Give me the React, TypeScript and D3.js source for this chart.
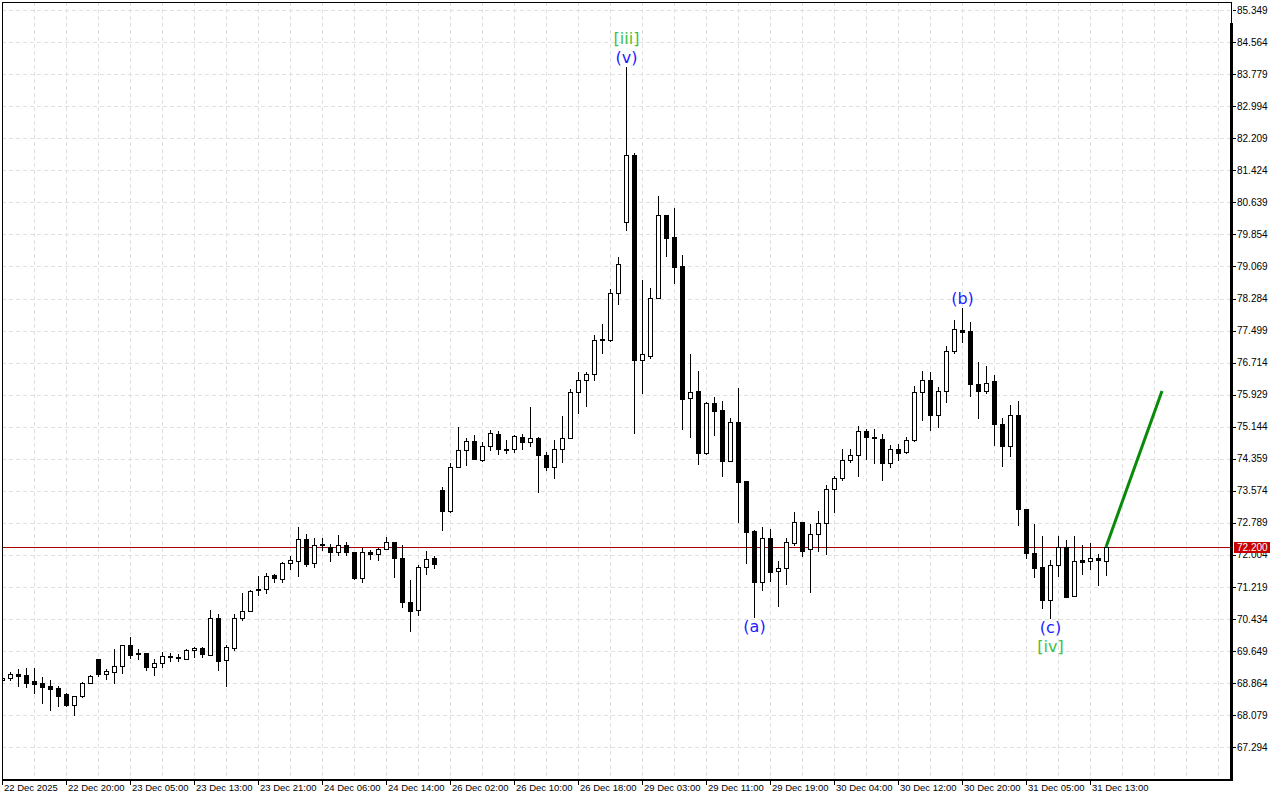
import React, { useEffect } from "react";
import * as d3 from "d3";

// ---- Data (H1 candles) ----
const OPEN = [68.94,69.00,69.09,69.07,68.92,68.87,68.80,68.74,68.60,68.33,68.56,68.86,69.45,69.10,69.15,69.28,69.79,69.60,69.60,69.27,69.35,69.54,69.51,69.46,69.67,69.72,69.55,70.47,69.42,69.73,70.47,70.62,71.16,71.16,71.51,71.42,71.80,71.86,72.39,71.80,72.27,72.21,72.07,72.24,72.07,71.45,72.07,72.02,72.14,72.31,71.94,70.84,70.65,71.70,71.93,73.59,73.09,74.15,74.57,74.79,74.32,74.66,74.96,74.60,74.59,74.89,74.77,74.86,74.45,74.15,74.59,74.88,76.00,76.30,76.43,77.29,77.28,78.41,80.15,81.80,76.77,76.88,78.29,80.32,79.78,79.07,75.84,76.02,74.51,75.72,75.55,74.31,75.25,73.81,72.59,71.35,72.43,71.62,71.68,72.29,72.80,72.16,72.51,72.78,73.63,73.90,74.32,74.45,75.03,74.89,74.84,74.25,74.59,74.52,74.81,75.99,76.30,75.42,76.03,76.99,77.51,77.48,76.18,76.03,76.26,75.20,74.68,75.42,73.12,72.04,71.70,70.91,71.77,72.21,71.00,71.87,71.85,71.92,71.86];
const HIGH = [69.01,69.15,69.21,69.23,69.23,69.02,68.94,68.80,68.63,68.56,68.89,69.07,69.45,69.21,69.70,69.79,69.99,69.70,69.60,69.46,69.63,69.60,69.57,69.69,69.74,69.76,70.65,70.57,69.80,70.57,71.07,71.14,71.49,71.56,71.54,71.83,71.98,72.70,72.52,72.41,72.41,72.28,72.49,72.31,72.07,72.18,72.12,72.18,72.44,72.31,72.26,71.39,71.77,72.09,71.99,73.66,74.25,75.13,74.86,74.93,74.76,75.06,75.03,74.81,74.93,74.96,75.62,74.89,74.52,74.81,75.40,76.07,76.48,76.48,77.39,77.65,78.51,79.29,83.95,81.84,78.74,78.53,80.79,80.32,80.50,79.34,76.92,76.52,75.74,75.86,75.77,75.35,76.09,73.81,72.61,72.69,72.64,71.85,72.41,73.05,72.80,72.75,73.09,73.71,73.93,74.61,74.61,75.16,75.08,75.08,74.96,74.69,74.71,74.89,76.13,76.50,76.48,76.11,77.11,77.75,78.04,77.72,76.72,76.62,76.40,75.37,75.67,75.77,73.12,72.75,72.48,71.87,72.46,72.38,72.46,72.24,72.29,72.02,72.19];
const LOW = [68.89,68.93,68.80,68.78,68.63,68.38,68.21,68.31,68.31,68.08,68.53,68.86,69.03,68.97,68.87,69.12,69.48,69.46,69.19,69.07,69.25,69.41,69.41,69.45,69.51,69.51,69.55,69.19,68.80,69.67,70.42,70.62,71.02,71.08,71.35,71.35,71.67,71.49,71.74,71.71,72.12,71.86,72.01,72.01,71.42,71.35,71.90,71.88,72.14,71.47,70.74,70.15,70.53,71.54,71.69,72.61,73.06,74.15,74.21,74.35,74.30,74.57,74.47,74.49,74.52,74.59,74.66,73.54,74.08,73.88,74.27,74.86,75.47,75.65,76.30,76.96,77.25,78.16,79.97,74.99,75.97,76.83,78.29,79.33,78.67,75.09,74.90,74.22,74.48,74.94,73.94,74.31,72.82,71.81,70.49,71.14,71.36,70.76,71.30,72.26,71.98,71.10,72.11,72.02,73.05,73.84,74.28,73.93,74.35,74.25,73.84,74.17,74.32,74.49,74.79,75.30,75.06,75.13,75.74,76.94,77.23,75.89,75.35,75.96,74.69,74.19,74.43,72.74,71.94,71.47,70.71,70.47,71.49,70.98,71.00,71.54,71.67,71.27,71.52];
const CLOSE = [68.99,69.09,69.05,68.87,68.85,68.78,68.73,68.56,68.33,68.56,68.87,69.04,69.10,69.17,69.28,69.79,69.56,69.57,69.27,69.36,69.53,69.50,69.47,69.67,69.72,69.57,70.47,69.41,69.74,70.47,70.63,71.12,71.14,71.50,71.45,71.80,71.87,72.39,71.79,72.26,72.24,72.07,72.24,72.07,71.45,72.07,72.02,72.14,72.31,71.94,70.86,70.64,71.70,71.91,71.79,73.09,74.15,74.57,74.79,74.35,74.66,74.98,74.61,74.58,74.91,74.77,74.86,74.45,74.15,74.59,74.88,75.99,76.30,76.43,77.27,77.26,78.41,79.12,81.79,76.77,76.92,78.29,80.32,79.77,79.05,75.83,76.00,74.49,75.72,75.54,74.31,75.25,73.80,72.57,71.35,72.41,71.59,71.68,72.31,72.80,72.11,72.51,72.78,73.63,73.90,74.32,74.45,75.03,74.89,74.86,74.25,74.59,74.49,74.81,75.99,76.30,75.44,76.03,76.99,77.53,77.47,76.18,76.03,76.21,75.20,74.68,75.42,73.12,72.06,71.69,70.91,71.77,72.21,70.98,71.85,71.84,71.92,71.87,72.20];

const PRICE_TICKS = [85.349,84.564,83.779,82.994,82.209,81.424,80.639,79.854,79.069,78.284,77.499,76.714,75.929,75.144,74.359,73.574,72.789,72.004,71.219,70.434,69.649,68.864,68.079,67.294];

const TIME_LABELS = ["22 Dec 2025","22 Dec 20:00","23 Dec 05:00","23 Dec 13:00","23 Dec 21:00","24 Dec 06:00","24 Dec 14:00","26 Dec 02:00","26 Dec 10:00","26 Dec 18:00","29 Dec 03:00","29 Dec 11:00","29 Dec 19:00","30 Dec 04:00","30 Dec 12:00","30 Dec 20:00","31 Dec 05:00","31 Dec 13:00"];
const TIME_LABEL_BARS = [0,8,16,24,32,40,48,56,64,72,80,88,96,104,112,120,128,136];

const CURRENT_PRICE = 72.2;
const FORECAST_BARS = [138, 145];
const FORECAST_PRICES = [72.2, 76.02];

const WAVE_TEXT = ["[iii]", "(v)", "(a)", "(b)", "(c)", "[iv]"];
const WAVE_BARS = [78, 78, 94, 120, 131, 131];
const WAVE_SIDE = ["above2", "above", "below", "above", "below", "below2"];
const WAVE_KIND = ["major", "minor", "minor", "minor", "minor", "major"];

// ---- Layout ----
const W = 1280, H = 800;
const LEFT = 2, RIGHT = 1232, TOP = 2, BOTTOM = 780;

export default function App() {
  useEffect(() => {
    document.body.style.margin = "0";
  }, []);

  const x = d3.scaleLinear().domain([0, 145]).range([2, 1162]);
  const y = d3.scaleLinear().domain([67.294, 85.349]).range([747.3, 10]);

  const px = (v: number) => Math.round(v) + 0.5;
  const gridX = d3.range(1, 39).map((k) => x(4 * k));
  const axisFont = "'Liberation Sans', Arial, sans-serif";
  const green = "#3fc23f";
  const blue = "#1c1cff";

  return (
    <svg width={W} height={H} style={{ display: "block", background: "#fff" }}>
      <defs>
        <clipPath id="plot">
          <rect x={LEFT} y={TOP} width={RIGHT - LEFT} height={BOTTOM - TOP} />
        </clipPath>
      </defs>
      {/* grid */}
      <g stroke="#e0e0e0" strokeWidth={1} strokeDasharray="4,3" shapeRendering="crispEdges">
        {PRICE_TICKS.map((p, i) => (
          <line key={"h" + i} x1={LEFT} x2={RIGHT - 2} y1={px(y(p))} y2={px(y(p))} />
        ))}
        {gridX.map((gx, i) => (
          <line key={"v" + i} x1={px(gx)} x2={px(gx)} y1={TOP} y2={BOTTOM} />
        ))}
      </g>

      {/* current price line */}
      <line x1={LEFT} x2={RIGHT} y1={px(y(CURRENT_PRICE))} y2={px(y(CURRENT_PRICE))} stroke="#a80000" strokeWidth={1} shapeRendering="crispEdges" />

      {/* candles */}
      <g clipPath="url(#plot)" shapeRendering="crispEdges">
        {OPEN.map((o, i) => {
          const c = CLOSE[i];
          const cx = Math.round(x(i));
          const up = c >= o;
          const yTop = Math.round(y(Math.max(o, c)));
          const yBot = Math.round(y(Math.min(o, c)));
          const hgt = Math.max(1, yBot - yTop);
          return (
            <g key={i}>
              <line x1={cx + 0.5} x2={cx + 0.5} y1={Math.round(y(HIGH[i]))} y2={Math.round(y(LOW[i])) + 1} stroke="#000" strokeWidth={1} />
              <rect x={cx - 1.5} y={yTop + 0.5} width={4} height={hgt} fill={up ? "#fff" : "#000"} stroke="#000" strokeWidth={1} />
            </g>
          );
        })}
      </g>

      {/* forecast line */}
      <line x1={x(FORECAST_BARS[0])} y1={y(FORECAST_PRICES[0])} x2={x(FORECAST_BARS[1])} y2={y(FORECAST_PRICES[1])} stroke="#0a8a0a" strokeWidth={3} />

      {/* wave labels */}
      <g fontFamily="'DejaVu Sans', sans-serif" fontSize={16} textAnchor="middle">
        {WAVE_TEXT.map((t, i) => {
          const b = WAVE_BARS[i];
          const side = WAVE_SIDE[i];
          let ty = 0;
          if (side === "above") ty = y(HIGH[b]) - 4;
          else if (side === "above2") ty = y(HIGH[b]) - 23;
          else if (side === "below") ty = y(LOW[b]) + 15;
          else ty = y(LOW[b]) + 34;
          return (
            <text key={i} x={x(b) + 0.5} y={ty} fill={WAVE_KIND[i] === "major" ? green : blue}>
              {t}
            </text>
          );
        })}
      </g>

      {/* frame */}
      <g shapeRendering="crispEdges">
        <line x1={LEFT} x2={RIGHT} y1={TOP + 0.5} y2={TOP + 0.5} stroke="#000" />
        <line x1={LEFT + 0.5} x2={LEFT + 0.5} y1={TOP} y2={BOTTOM} stroke="#000" />
        <line x1={RIGHT - 0.5} x2={RIGHT - 0.5} y1={TOP} y2={BOTTOM} stroke="#000" />
        <rect x={RIGHT - 2} y={23} width={3} height={BOTTOM - 23 + 1} fill="#000" />
        <rect x={LEFT} y={BOTTOM - 1} width={RIGHT - LEFT + 1} height={2} fill="#000" />
      </g>

      {/* price axis */}
      <g fontFamily={axisFont} fontSize={10} fill="#000">
        {PRICE_TICKS.map((p, i) => (
          <g key={i}>
            <line x1={RIGHT + 1} x2={RIGHT + 4} y1={px(y(p))} y2={px(y(p))} stroke="#000" shapeRendering="crispEdges" />
            <text x={RIGHT + 5} y={y(p) + 3.5}>{p.toFixed(3)}</text>
          </g>
        ))}
        <rect x={RIGHT + 2} y={Math.round(y(CURRENT_PRICE)) - 5} width={36} height={11} fill="#c80000" />
        <text x={RIGHT + 5} y={y(CURRENT_PRICE) + 4} fill="#fff">{CURRENT_PRICE.toFixed(3)}</text>
      </g>

      {/* time axis */}
      <g fontFamily={axisFont} fontSize={9.5} fill="#000">
        {TIME_LABELS.map((t, i) => {
          const tx = Math.round(x(TIME_LABEL_BARS[i]));
          return (
            <g key={i}>
              <line x1={tx + 0.5} x2={tx + 0.5} y1={BOTTOM} y2={BOTTOM + 5} stroke="#000" shapeRendering="crispEdges" />
              <text x={tx + 2} y={BOTTOM + 11}>{t}</text>
            </g>
          );
        })}
      </g>
    </svg>
  );
}
